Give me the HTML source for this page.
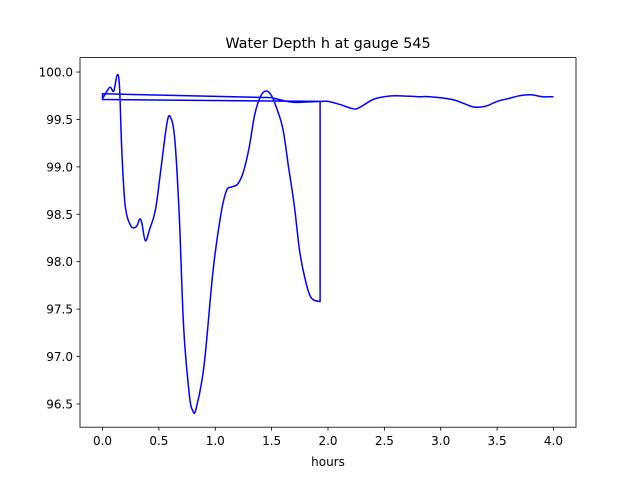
<!DOCTYPE html>
<html><head><meta charset="utf-8"><style>
body{margin:0;background:#fff;font-family:"Liberation Sans","DejaVu Sans",sans-serif}
svg text{font-family:"DejaVu Sans","Liberation Sans",sans-serif;font-size:12px;fill:#000}
</style></head><body>
<svg id="chart" width="640" height="480" xmlns="http://www.w3.org/2000/svg">
<rect x="0" y="0" width="640" height="480" fill="#fff"/>
<text x="328" y="48" text-anchor="middle" style="font-size:14.4px">Water Depth h at gauge 545</text>
<g id="ticks"></g>
<path id="series" fill="none" stroke="#0000ff" stroke-width="1.5" stroke-linejoin="round"/>
<rect x="80" y="57.6" width="496" height="369.6" fill="none" stroke="#000" stroke-width="0.8"/>
<text x="328" y="466" text-anchor="middle">hours</text>
</svg>
<script>
const hours=[0,0.03,0.05,0.07,0.1,0.13,0.15,0.17,0.2,0.25,0.3,0.33,0.35,0.38,0.42,0.47,0.52,0.57,0.6,0.64,0.68,0.72,0.77,0.8,0.83,0.9,0.98,1.05,1.1,1.15,1.2,1.25,1.3,1.35,1.4,1.45,1.5,1.55,1.6,1.65,1.7,1.75,1.8,1.85,1.92,1.93,1.93,0,0,1.5,1.6,1.7,1.93,2.0,2.1,2.2,2.25,2.3,2.4,2.5,2.6,2.8,2.9,3.1,3.2,3.3,3.4,3.5,3.6,3.7,3.8,3.9,4.0];
const depth=[99.72,99.78,99.82,99.84,99.8,99.97,99.85,99.2,98.6,98.38,98.37,98.45,98.4,98.22,98.35,98.55,99.0,99.45,99.53,99.3,98.5,97.3,96.6,96.43,96.45,96.9,97.9,98.5,98.75,98.79,98.82,98.95,99.2,99.55,99.74,99.8,99.75,99.6,99.4,99.0,98.6,98.1,97.8,97.62,97.58,97.58,99.69,99.71,99.77,99.73,99.7,99.68,99.69,99.69,99.66,99.62,99.61,99.64,99.71,99.74,99.75,99.74,99.74,99.71,99.67,99.63,99.64,99.69,99.72,99.75,99.76,99.74,99.74];
const xTicks=[0,0.5,1,1.5,2,2.5,3,3.5,4];
const yTicks=[96.5,97,97.5,98,98.5,99,99.5,100];
const X0=-0.2,X1=4.2,Y0=96.255,Y1=100.152;
const sx=v=>80+(v-X0)/(X1-X0)*496;
const sy=v=>427.2-(v-Y0)/(Y1-Y0)*369.6;
const NS='http://www.w3.org/2000/svg';
const pts=hours.map((h,i)=>[sx(h),sy(depth[i])]);
let d='M'+pts[0][0].toFixed(1)+' '+pts[0][1].toFixed(1);
for(let i=0;i<pts.length-1;i++){
 const p1=pts[i],p2=pts[i+1];
 if(i>=44&&i<=49){d+='L'+p2[0].toFixed(1)+' '+p2[1].toFixed(1);continue;}
 const p0=pts[i-1]&&!(i-1>=44&&i-1<=49)?pts[i-1]:p1;
 const p3=pts[i+2]&&!(i+1>=44&&i+1<=49)?pts[i+2]:p2;
 const c1=[p1[0]+(p2[0]-p0[0])/6,p1[1]+(p2[1]-p0[1])/6];
 const c2=[p2[0]-(p3[0]-p1[0])/6,p2[1]-(p3[1]-p1[1])/6];
 d+='C'+c1.map(v=>v.toFixed(1)).join(' ')+' '+c2.map(v=>v.toFixed(1)).join(' ')+' '+p2[0].toFixed(1)+' '+p2[1].toFixed(1);
}
document.getElementById('series').setAttribute('d',d);
const g=document.getElementById('ticks');
xTicks.forEach(t=>{
 const l=document.createElementNS(NS,'line');
 
 
 l.setAttribute('x1',sx(t));l.setAttribute('x2',sx(t));l.setAttribute('y1',427.2);l.setAttribute('y2',430.7);l.setAttribute('stroke','#000');l.setAttribute('stroke-width','0.8');g.appendChild(l);
 const tx=document.createElementNS(NS,'text');
 
 
 tx.setAttribute('x',sx(t));tx.setAttribute('y',445);tx.setAttribute('text-anchor','middle');tx.textContent=t.toFixed(1);g.appendChild(tx);
});
yTicks.forEach(t=>{
 const l=document.createElementNS(NS,'line');
 
 
 l.setAttribute('x1',76.5);l.setAttribute('x2',80);l.setAttribute('y1',sy(t));l.setAttribute('y2',sy(t));l.setAttribute('stroke','#000');l.setAttribute('stroke-width','0.8');g.appendChild(l);
 const tx=document.createElementNS(NS,'text');
 
 
 tx.setAttribute('x',73);tx.setAttribute('y',sy(t)+4.5);tx.setAttribute('text-anchor','end');tx.textContent=t.toFixed(1);g.appendChild(tx);
});
</script>
</body></html>
